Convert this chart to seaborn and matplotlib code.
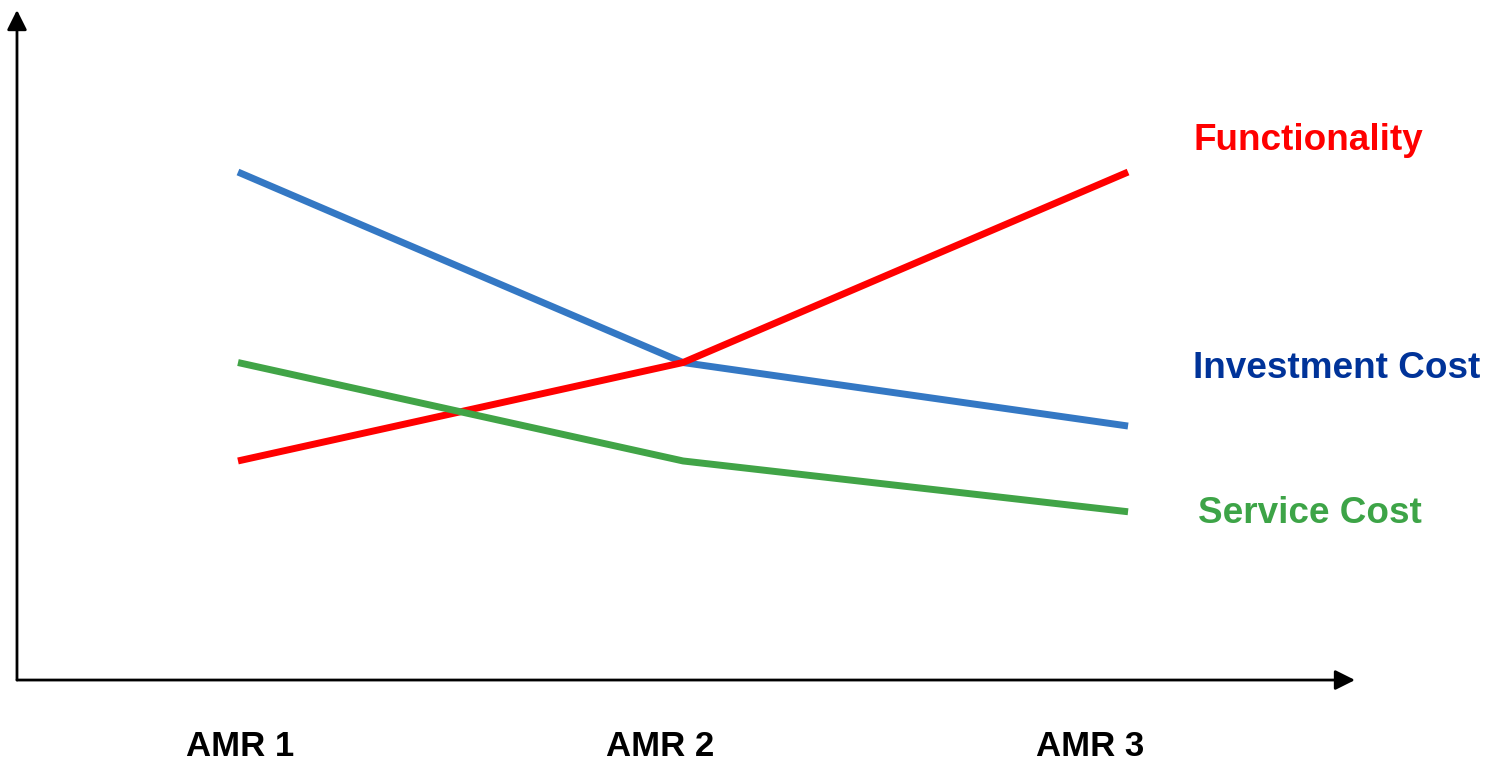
import pandas as pd
import matplotlib
matplotlib.use('Agg')
import matplotlib.pyplot as plt
import seaborn as sns

# data (arbitrary units, 0 = x-axis)
stages = ['AMR 1', 'AMR 2', 'AMR 3']
stage_pos = [1, 2, 3]
investment_cost = [8.0, 5.0, 4.0]
functionality = [3.45, 5.0, 8.0]
service_cost = [5.0, 3.45, 2.65]

series = ['Investment Cost', 'Functionality', 'Service Cost']
line_colors = {'Investment Cost': '#3478C4', 'Functionality': '#FF0000', 'Service Cost': '#41A447'}
text_colors = {'Investment Cost': '#003399', 'Functionality': '#FF0000', 'Service Cost': '#3DA447'}

df = pd.DataFrame({
    'stage': stage_pos * 3,
    'value': investment_cost + functionality + service_cost,
    'series': [s for s in series for _ in stages],
})

sns.set_style('white')
plt.rcParams['font.family'] = ['Liberation Sans', 'DejaVu Sans']

fig = plt.figure(figsize=(14.9, 7.61), dpi=100)
ax = fig.add_axes([0.0114, 0.1064, 0.898, 0.8778])

sns.lineplot(data=df, x='stage', y='value', hue='series', palette=line_colors,
             linewidth=5, legend=False, ax=ax)
for line in ax.get_lines():
    line.set_solid_capstyle('butt')
    line.set_solid_joinstyle('miter')

ax.set_xlim(0.5034, 3.51)
ax.set_ylim(0, 10.52)

# axis lines with arrow heads
for s in ['top', 'right', 'left', 'bottom']:
    ax.spines[s].set_visible(False)
ax.annotate('', xy=(0, 1.003), xycoords='axes fraction', xytext=(0, 0),
            arrowprops=dict(arrowstyle='-|>', color='black', lw=2, mutation_scale=30, shrinkA=0, shrinkB=0))
ax.annotate('', xy=(1, 0), xycoords='axes fraction', xytext=(0, 0),
            arrowprops=dict(arrowstyle='-|>', color='black', lw=2, mutation_scale=30, shrinkA=0, shrinkB=0))

ax.set_yticks([])
ax.set_xticks([1.005, 1.948, 2.915])
ax.set_xticklabels(stages, fontsize=25, fontweight='bold', color='black')
ax.tick_params(axis='x', length=0, pad=36)
ax.set_xlabel('')
ax.set_ylabel('')

# series labels at the right
ax.text(3.146, 8.5, 'Functionality', color=text_colors['Functionality'],
        fontsize=26.6, fontweight='bold', va='center', ha='left')
ax.text(3.146, 4.91, 'Investment Cost', color=text_colors['Investment Cost'],
        fontsize=26.6, fontweight='bold', va='center', ha='left')
ax.text(3.157, 2.63, 'Service Cost', color=text_colors['Service Cost'],
        fontsize=26.6, fontweight='bold', va='center', ha='left')

fig.savefig('out.png', dpi=100)
